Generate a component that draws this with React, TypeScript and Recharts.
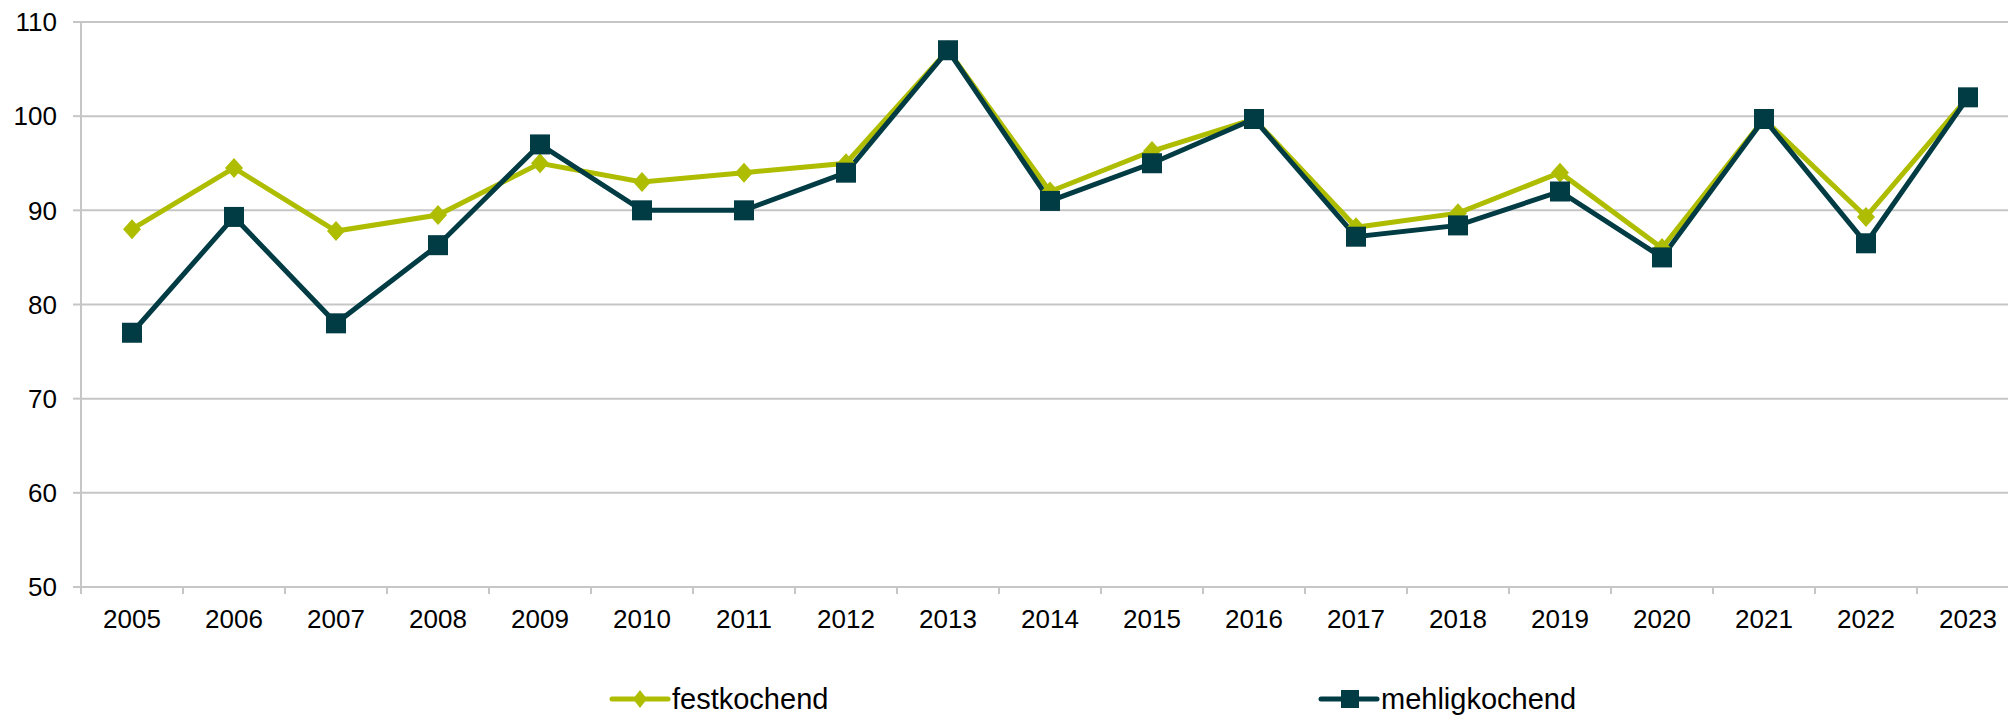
import React from "react";
import { LineChart, Line, XAxis, YAxis, CartesianGrid } from "recharts";

const years = ["2005","2006","2007","2008","2009","2010","2011","2012","2013","2014","2015","2016","2017","2018","2019","2020","2021","2022","2023"];
const festkochend = [88, 94.5, 87.8, 89.5, 95, 93, 94, 95, 107, 92, 96.3, 99.7, 88.2, 89.7, 94, 86, 99.7, 89.3, 102];
const mehligkochend = [77, 89.3, 78, 86.3, 97, 90, 90, 94, 107, 91, 95, 99.7, 87.2, 88.4, 92, 85, 99.7, 86.5, 102];
const yTicks = [50, 60, 70, 80, 90, 100, 110];
const seriesNames = ["festkochend", "mehligkochend"];

const data = years.map((y, i) => ({ year: y, fest: festkochend[i], mehl: mehligkochend[i] }));

const FEST = "#AEBD00";
const MEHL = "#013B43";
const GRID = "#C6C6C6";
const FONT = "'Liberation Sans', Arial, sans-serif";

const CHART_W = 2019;
const CHART_H = 715;
const M_TOP = 22;
const M_BOTTOM = 98;
const X_AXIS_H = 30;
const Y_AXIS_W = 81;
const AXIS_Y = CHART_H - M_BOTTOM - X_AXIS_H;
const BAND = (CHART_W - Y_AXIS_W) / years.length;

const Diamond = (props: any) => {
  const { cx, cy } = props;
  if (cx == null || cy == null) return null;
  return <polygon points={`${cx},${cy - 10} ${cx + 9},${cy} ${cx},${cy + 10} ${cx - 9},${cy}`} fill={FEST} />;
};

const Square = (props: any) => {
  const { cx, cy } = props;
  if (cx == null || cy == null) return null;
  return <rect x={cx - 10} y={cy - 10} width={20} height={20} fill={MEHL} />;
};

const XTick = (props: any) => {
  const { x, payload, index } = props;
  const half = BAND / 2;
  return (
    <g>
      <line x1={x - half} x2={x - half} y1={AXIS_Y} y2={AXIS_Y + 7} stroke={GRID} strokeWidth={2} />
      {index === years.length - 1 && (
        <line x1={x + half} x2={x + half} y1={AXIS_Y} y2={AXIS_Y + 7} stroke={GRID} strokeWidth={2} />
      )}
      <text x={x} y={AXIS_Y + 41} textAnchor="middle" fontSize={26} fill="#000" fontFamily={FONT}>
        {payload.value}
      </text>
    </g>
  );
};

const Legend = () => {
  const items = [
    { name: seriesNames[0], color: FEST, x: 612, shape: "diamond" },
    { name: seriesNames[1], color: MEHL, x: 1321, shape: "square" },
  ];
  const cy = 699;
  return (
    <svg width={2008} height={715} style={{ position: "absolute", left: 0, top: 0, pointerEvents: "none" }}>
      {items.map((it) => (
        <g key={it.name}>
          <line x1={it.x} x2={it.x + 56} y1={cy} y2={cy} stroke={it.color} strokeWidth={5} strokeLinecap="round" />
          {it.shape === "diamond" ? (
            <polygon points={`${it.x + 28},${cy - 9} ${it.x + 35},${cy} ${it.x + 28},${cy + 9} ${it.x + 21},${cy}`} fill={it.color} />
          ) : (
            <rect x={it.x + 20} y={cy - 9} width={18} height={18} fill={it.color} />
          )}
          <text x={it.x + 60} y={cy + 10} fontSize={29} fill="#000" fontFamily={FONT}>
            {it.name}
          </text>
        </g>
      ))}
    </svg>
  );
};

export default function App() {
  return (
    <div style={{ position: "absolute", left: 0, top: 0, width: 2008, height: 715, overflow: "hidden", background: "#fff" }}>
      <LineChart
        width={CHART_W}
        height={CHART_H}
        data={data}
        margin={{ top: M_TOP, right: 0, bottom: M_BOTTOM, left: 0 }}
        style={{ fontFamily: FONT }}
      >
        <CartesianGrid vertical={false} stroke={GRID} strokeWidth={2} />
        <XAxis
          dataKey="year"
          height={X_AXIS_H}
          padding={{ left: BAND / 2, right: BAND / 2 }}
          axisLine={{ stroke: GRID, strokeWidth: 2 }}
          tickLine={false}
          tick={<XTick />}
          interval={0}
        />
        <YAxis
          width={Y_AXIS_W}
          domain={[50, 110]}
          ticks={yTicks}
          interval={0}
          axisLine={{ stroke: GRID, strokeWidth: 2 }}
          tickLine={{ stroke: GRID, strokeWidth: 2 }}
          tickSize={8}
          tickMargin={16}
          tick={{ fontSize: 26, fill: "#000", fontFamily: FONT }}
        />
        <Line
          type="linear"
          dataKey="fest"
          name={seriesNames[0]}
          stroke={FEST}
          strokeWidth={5}
          dot={<Diamond />}
          activeDot={false}
          isAnimationActive={false}
        />
        <Line
          type="linear"
          dataKey="mehl"
          name={seriesNames[1]}
          stroke={MEHL}
          strokeWidth={5}
          dot={<Square />}
          activeDot={false}
          isAnimationActive={false}
        />
      </LineChart>
      <Legend />
    </div>
  );
}
